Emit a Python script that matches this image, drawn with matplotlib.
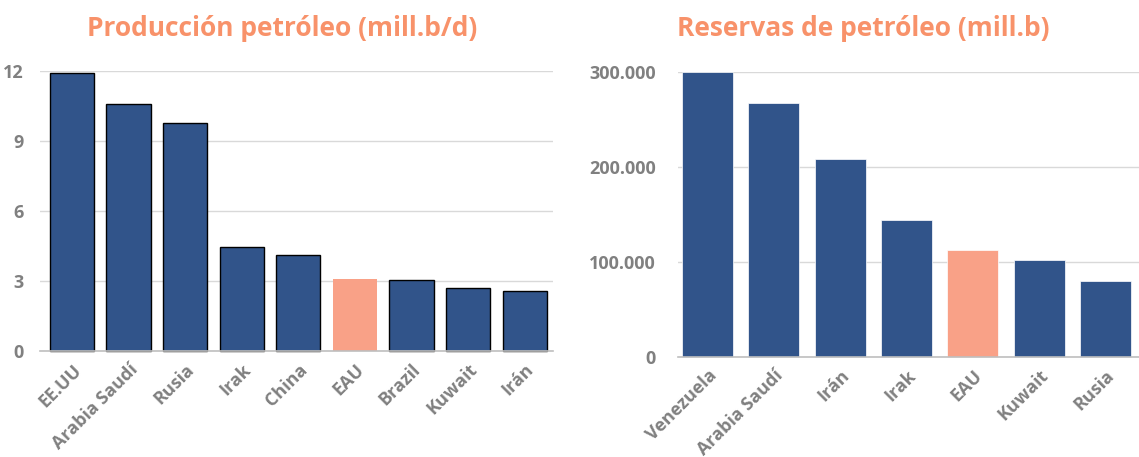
import matplotlib
matplotlib.use("Agg")
import matplotlib.pyplot as plt
from matplotlib.ticker import FuncFormatter

prod_countries = ["EE.UU", "Arabia Saudí", "Rusia", "Irak", "China", "EAU", "Brazil", "Kuwait", "Irán"]
prod_values = [11.9, 10.6, 9.76, 4.45, 4.1, 3.07, 3.04, 2.7, 2.55]
res_countries = ["Venezuela", "Arabia Saudí", "Irán", "Irak", "EAU", "Kuwait", "Rusia"]
res_values = [300000, 267000, 208000, 144500, 112000, 101500, 80000]
prod_ticks = [0, 3, 6, 9, 12]
res_ticks = [0, 100000, 200000, 300000]

BLUE = "#31548A"
SALMON = "#F9A187"
TITLE = "#F8926A"
GREY = "#808080"
FONT = "Open Sans"

plt.rcParams['font.family'] = [FONT, 'DejaVu Sans']

fig = plt.figure(figsize=(11.39, 4.57), dpi=100)

def style(ax):
    for s in ["top", "right", "left"]:
        ax.spines[s].set_visible(False)
    ax.spines["bottom"].set_color("#BFBFBF")
    ax.spines["bottom"].set_linewidth(1.2)
    ax.grid(axis="y", color="#D9D9D9", linewidth=1.0)
    ax.set_axisbelow(True)
    ax.tick_params(axis="both", length=0, colors=GREY, labelsize=13)
    for lab in ax.get_yticklabels() + ax.get_xticklabels():
        lab.set_fontweight("bold")
        lab.set_color(GREY)

# Left chart
ax1 = fig.add_axes([0.0351, 0.232, 0.4504, 0.6126])
cols1 = [SALMON if c == "EAU" else BLUE for c in prod_countries]
edges1 = ["none" if c == "EAU" else "black" for c in prod_countries]
x1 = list(range(len(prod_countries)))
ax1.bar(x1, prod_values, width=0.78, color=cols1, edgecolor=edges1, linewidth=1.0, clip_on=False)
ax1.set_xlim(-0.565, 8.5)
ax1.set_ylim(0, 12)
ax1.set_yticks(prod_ticks)
ax1.set_xticks(x1)
ax1.set_xticklabels(prod_countries, rotation=45, ha="right", rotation_mode="anchor")
ax1.tick_params(axis="y", pad=12)
ax1.tick_params(axis="x", pad=7)
style(ax1)
fig.text(0.248, 0.938, "Producción petróleo (mill.b/d)", color=TITLE, fontsize=19,
         fontweight="bold", ha="center", va="center")

# Right chart
ax2 = fig.add_axes([0.5953, 0.2195, 0.4047, 0.623])
cols2 = [SALMON if c == "EAU" else BLUE for c in res_countries]
x2 = list(range(len(res_countries)))
ax2.bar(x2, res_values, width=0.77, color=cols2, edgecolor="white", linewidth=0.5, clip_on=False)
ax2.set_xlim(-0.445, 6.505)
ax2.set_ylim(0, 300000)
ax2.set_yticks(res_ticks)
ax2.yaxis.set_major_formatter(FuncFormatter(lambda v, p: f"{int(v):,}".replace(",", ".")))
ax2.set_xticks(x2)
ax2.set_xticklabels(res_countries, rotation=45, ha="right", rotation_mode="anchor")
ax2.tick_params(axis="y", pad=16)
ax2.tick_params(axis="x", pad=7)
style(ax2)
fig.text(0.758, 0.938, "Reservas de petróleo (mill.b)", color=TITLE, fontsize=19,
         fontweight="bold", ha="center", va="center")

fig.savefig("out.png", dpi=100)
